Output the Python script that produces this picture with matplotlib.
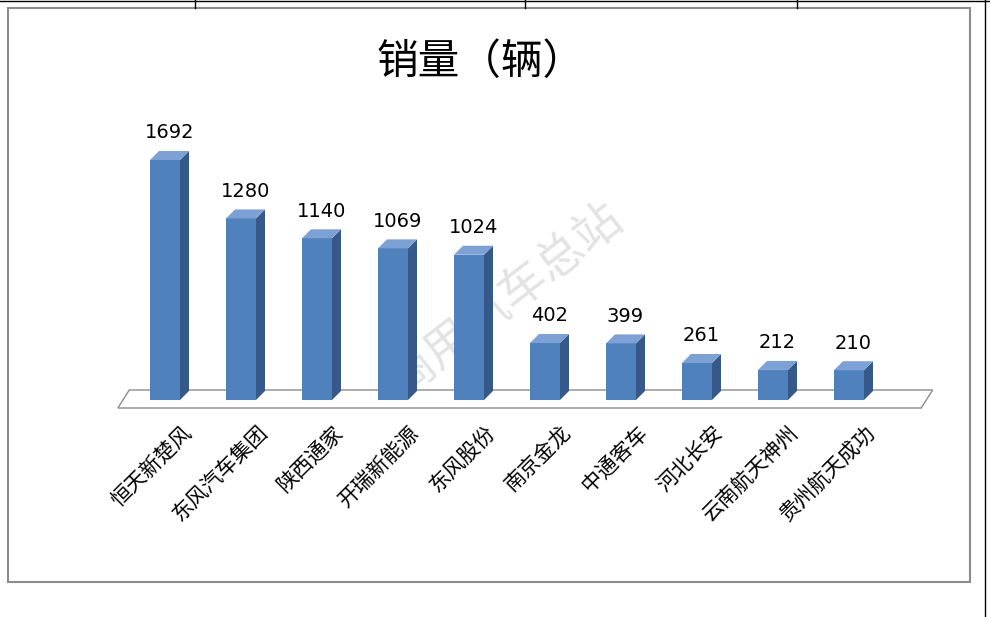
import matplotlib
matplotlib.use("Agg")
import matplotlib.pyplot as plt
from matplotlib.patches import Polygon, Rectangle

plt.rcParams['font.family'] = ['Noto Sans CJK SC', 'DejaVu Sans']

companies = ["恒天新楚风", "东风汽车集团", "陕西通家", "开瑞新能源", "东风股份",
             "南京金龙", "中通客车", "河北长安", "云南航天神州", "贵州航天成功"]
sales = [1692, 1280, 1140, 1069, 1024, 402, 399, 261, 212, 210]

FRONT, SIDE, TOP = "#4F81BD", "#36598A", "#7DA1D4"
W, H = 990, 617
fig = plt.figure(figsize=(W / 100, H / 100), dpi=100)

# page frame: table lines + chart border
bg = fig.add_axes([0, 0, 1, 1])
bg.set_xlim(0, W); bg.set_ylim(H, 0); bg.axis("off")
bg.add_patch(Rectangle((8, 8), 962, 574, fill=False, ec="#8c8c8c", lw=1.5))
for x in (195, 525, 797):
    bg.plot([x, x], [0, 8], color="black", lw=1)
bg.plot([0, W], [0.5, 0.5], color="black", lw=1)
bg.plot([985, 985], [0, H], color="black", lw=1)
bg.text(480, 62, "销量（辆）", ha="center", va="center", fontsize=30)
bg.text(505, 300, "商用汽车总站", ha="center", va="center", fontsize=34,
        rotation=38, color="#d0d0d0", alpha=0.6)

# bar area: x pixels 127..887, y pixel 400 is zero, 240 px per 1692
ymax = 300 / 240 * 1692
ax = fig.add_axes([127 / W, (H - 400) / H, 760 / W, 300 / H])
ax.set_xlim(-0.5, len(sales) - 0.5); ax.set_ylim(0, ymax); ax.axis("off")

bw = 30 / 76
dx, dy = 9 / 76, 9 * 1692 / 240

floor = Polygon([(-0.62, -8 * 1692 / 240), (9.95, -8 * 1692 / 240),
                 (10.1, 10 * 1692 / 240), (-0.47, 10 * 1692 / 240)],
                closed=True, fc="white", ec="#8c8c8c", lw=1, clip_on=False)
ax.add_patch(floor)

bars = ax.bar(range(len(sales)), sales, width=bw, color=FRONT, zorder=3, clip_on=False)
for b, v in zip(bars, sales):
    x0, x1, y1 = b.get_x(), b.get_x() + b.get_width(), b.get_height()
    ax.add_patch(Polygon([(x1, 0), (x1 + dx, dy), (x1 + dx, y1 + dy), (x1, y1)],
                         fc=SIDE, zorder=3, clip_on=False))
    ax.add_patch(Polygon([(x0, y1), (x0 + dx, y1 + dy), (x1 + dx, y1 + dy), (x1, y1)],
                         fc=TOP, zorder=3, clip_on=False))
    ax.text((x0 + x1) / 2 + dx / 2, y1 + dy + 60, str(v), ha="center", va="bottom",
            fontsize=14, family=["DejaVu Sans"])

for i, name in enumerate(companies):
    ax.text(i + 0.2, -150, name, ha="right", va="top", rotation=45,
            rotation_mode="anchor", fontsize=15)

fig.savefig("out.png", dpi=100)
